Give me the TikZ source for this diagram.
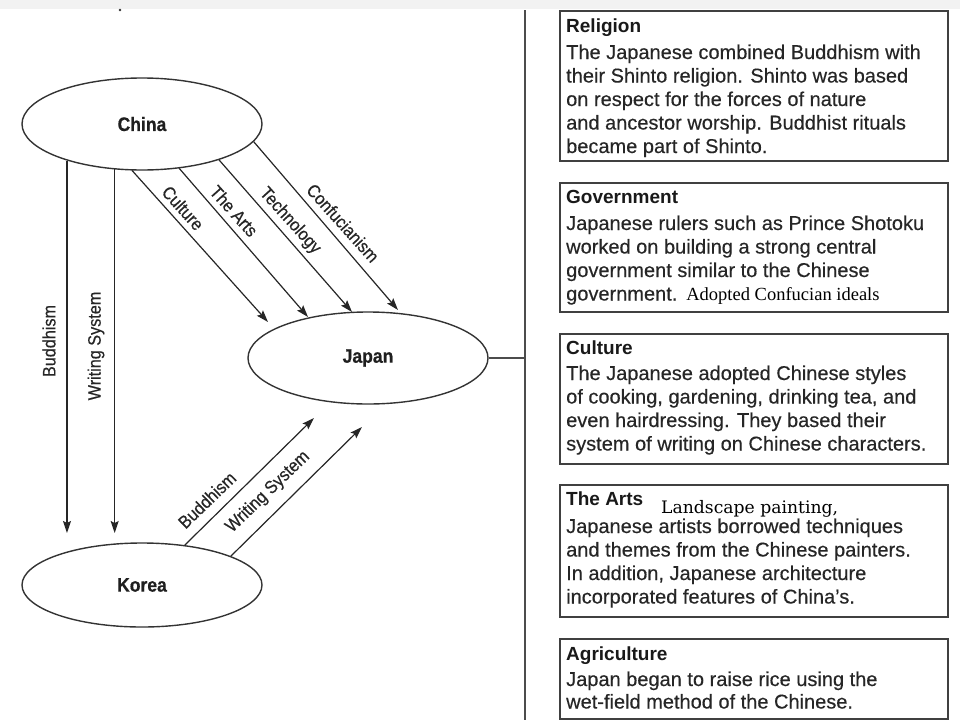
\documentclass[tikz,border=0pt]{standalone}
\usepackage{fontspec}
\setmainfont{Liberation Sans}
\newfontfamily\narrowfont[FakeStretch=0.9,FakeBold=0.5]{Liberation Sans}
\newfontfamily\medfont[FakeBold=0.4]{Liberation Sans}
\newfontfamily\serifA{Liberation Serif}
\newfontfamily\serifB{DejaVu Serif}
\usetikzlibrary{arrows.meta,shapes.geometric}
\tikzset{
  region/.style={ellipse, draw=black!80, line width=1.4pt, minimum width=240pt,
    minimum height=92pt, inner sep=0pt, text=black!88,
    font=\narrowfont\bfseries\fontsize{19.5}{22}\selectfont},
  flow/.style={draw=black!85, line width=1.2pt,
    -{Stealth[length=12pt,width=8pt,inset=2pt]}},
  lbl/.style={font=\narrowfont\fontsize{18}{20}\selectfont, text=black!85, inner sep=0pt},
  infobox/.style={draw=black!75, line width=1.6pt, anchor=north west, inner sep=0pt},
  hdr/.style={anchor=base west, inner sep=0pt, text=black!90,
    font=\bfseries\fontsize{19}{22}\selectfont},
  bodytxt/.style={anchor=base west, inner sep=0pt, text=black!85,
    font=\medfont\fontsize{20}{23.5}\selectfont},
  divider/.style={draw=black!70, line width=1.6pt},
}
\begin{document}
\begin{tikzpicture}[x=1pt,y=-1pt]
\useasboundingbox (0,0) rectangle (960,720);
\fill[black!5] (0,0) rectangle (960,9);
\fill[black!80] (120,10) circle (1.4);

% ellipses
\node[region] (china) at (142,124) {China};
\node[region] (japan) at (368,358) {Japan};
\node[region, minimum height=84pt] (korea) at (142,585) {Korea};

% arrow tips
\coordinate (tipBv) at (67,533);
\coordinate (tipWv) at (115,533);
\coordinate (tipCu) at (268,322);
\coordinate (tipAr) at (308,317);
\coordinate (tipTe) at (352,312);
\coordinate (tipCo) at (398,310);
\coordinate (tipBk) at (314,418);
\coordinate (tipWk) at (362,427);

% connectors
\draw[flow] (china.-154.4) -- (china.-154.4 |- tipBv);
\draw[flow] (china.-121.1) -- (china.-121.1 |- tipWv);
\draw[flow] (china.-102.3) -- (tipCu);
\draw[flow] (china.-50.6) -- (tipAr);
\draw[flow] (china.-25.1) -- (tipTe);
\draw[flow] (china.-9.5) -- (tipCo);
\draw[flow] (korea.43.9) -- (tipBk);
\draw[flow] (korea.18) -- (tipWk);

% labels
\node[lbl, rotate=90] (lBv) at (49,341) {Buddhism};
\node[lbl, rotate=90] (lWv) at (96,346) {Writing System};
\node[lbl, rotate=-48] (lCu) at (183,208) {Culture};
\node[lbl, rotate=-48] (lAr) at (234,211) {The Arts};
\node[lbl, rotate=-48] (lTe) at (290,221) {Technology};
\node[lbl, rotate=-48] (lCo) at (343,223) {Confucianism};
\node[lbl, rotate=44] (lBk) at (207,500) {Buddhism};
\node[lbl, rotate=44] (lWk) at (268,492) {Writing System};

% divider
\coordinate (divtop) at (525,10);
\coordinate (divbot) at (525,720);
\draw[divider] (divtop) -- (divbot);
\draw[divider] (japan.east) -- (japan.east -| divtop);

% boxes
\node[infobox, minimum width=388pt, minimum height=150pt] (relbox) at (559,10) {};
\node[infobox, minimum width=388pt, minimum height=129pt] (govbox) at (559,182) {};
\node[infobox, minimum width=388pt, minimum height=130pt] (culbox) at (559,333) {};
\node[infobox, minimum width=388pt, minimum height=132pt] (artbox) at (559,484) {};
\node[infobox, minimum width=388pt, minimum height=80pt] (agrbox) at (559,638) {};

% texts
\node[hdr] (relH) at (566,32) {Religion};
\node[bodytxt] (relB) at (566,59) {\parbox[t]{380pt}{The Japanese combined Buddhism with\\their Shinto religion. Shinto was based\\on respect for the forces of nature\\and ancestor worship. Buddhist rituals\\became part of Shinto.}};

\node[hdr] (govH) at (566,203) {Government};
\node[bodytxt] (govB) at (566,230) {\parbox[t]{380pt}{Japanese rulers such as Prince Shotoku\\worked on building a strong central\\government similar to the Chinese\\government.\hspace{9pt}{\serifA\fontsize{18.5}{20}\selectfont\color{black}Adopted Confucian ideals}}};

\node[hdr] (culH) at (566,354) {Culture};
\node[bodytxt] (culB) at (566,380) {\parbox[t]{380pt}{The Japanese adopted Chinese styles\\of cooking, gardening, drinking tea, and\\even hairdressing. They based their\\system of writing on Chinese characters.}};

\node[hdr] (artH) at (566,505) {The Arts};
\node[anchor=base west, inner sep=0pt, font=\serifB\fontsize{17.2}{19}\selectfont] (artL) at (661,513) {Landscape painting,};
\node[bodytxt] (artB) at (566,533) {\parbox[t]{380pt}{Japanese artists borrowed techniques\\and themes from the Chinese painters.\\In addition, Japanese architecture\\incorporated features of China’s.}};

\node[hdr] (agrH) at (566,660) {Agriculture};
\node[bodytxt, font=\medfont\fontsize{20}{22.5}\selectfont] (agrB) at (566,686) {\parbox[t]{380pt}{Japan began to raise rice using the\\wet-field method of the Chinese.}};
\end{tikzpicture}
\end{document}
